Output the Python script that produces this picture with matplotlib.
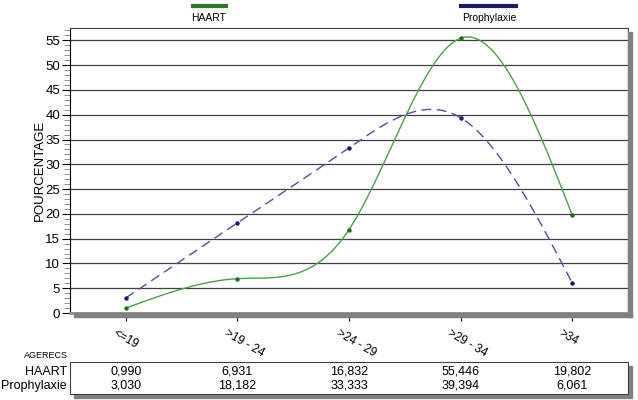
import numpy as np
import matplotlib.pyplot as plt
from matplotlib.patches import Rectangle
from matplotlib.lines import Line2D
from matplotlib.transforms import ScaledTranslation

plt.rcParams['font.family'] = ['Liberation Sans', 'DejaVu Sans']

categories = ['<=19', '>19 - 24', '>24 - 29', '>29 - 34', '>34']
haart = [0.990, 6.931, 16.832, 55.446, 19.802]
prophylaxie = [3.030, 18.182, 33.333, 39.394, 6.061]
haart_txt = ['0,990', '6,931', '16,832', '55,446', '19,802']
proph_txt = ['3,030', '18,182', '33,333', '39,394', '6,061']


def natural_spline(x, y, xs):
    x = np.asarray(x, float)
    y = np.asarray(y, float)
    n = len(x)
    h = np.diff(x)
    A = np.zeros((n, n))
    b = np.zeros(n)
    A[0, 0] = 1
    A[-1, -1] = 1
    for i in range(1, n - 1):
        A[i, i - 1] = h[i - 1]
        A[i, i] = 2 * (h[i - 1] + h[i])
        A[i, i + 1] = h[i]
        b[i] = 6 * ((y[i + 1] - y[i]) / h[i] - (y[i] - y[i - 1]) / h[i - 1])
    m = np.linalg.solve(A, b)
    idx = np.clip(np.searchsorted(x, xs) - 1, 0, n - 2)
    t0 = x[idx]
    t1 = x[idx + 1]
    hh = t1 - t0
    a = (t1 - xs) / hh
    c = (xs - t0) / hh
    return (a * y[idx] + c * y[idx + 1]
            + ((a**3 - a) * m[idx] + (c**3 - c) * m[idx + 1]) * hh**2 / 6)


fig = plt.figure(figsize=(6.38, 4.0), dpi=100)
W, H = 638, 400

# plot area in pixels
L, R, T, B = 70, 628, 28, 313
ax = fig.add_axes([L / W, 1 - B / H, (R - L) / W, (B - T) / H])

# drop shadow
fig.patches.append(Rectangle((R / W, 1 - (B + 4) / H), 4 / W, (B - T) / H,
                             transform=fig.transFigure, color='#808080', zorder=0))
fig.patches.append(Rectangle(((L + 4) / W, 1 - (B + 4) / H), (R - L) / W, 4 / H,
                             transform=fig.transFigure, color='#808080', zorder=0))

x = np.arange(len(categories))
xs = np.linspace(0, len(categories) - 1, 400)

ax.plot(xs, natural_spline(x, haart, xs), color='#4aa24a', lw=1.0, zorder=3)
ax.plot(xs, natural_spline(x, prophylaxie, xs), color='#5050a8', lw=1.0,
        dashes=(7, 4), zorder=3)
ax.plot(x, haart, 'o', color='#1f6e1f', ms=2.2, zorder=4)
ax.plot(x, prophylaxie, 'o', color='#1c1c70', ms=2.2, zorder=4)

ax.set_xlim(-0.5, 4.5)
ax.set_ylim(0, 57.5)
ax.set_yticks(np.arange(0, 56, 5))
ax.set_yticks(np.arange(0, 58, 1), minor=True)
ax.grid(axis='y', which='major', color='#404040', lw=0.9)
ax.set_axisbelow(True)
ax.tick_params(axis='y', which='major', length=6, width=0.8, labelsize=9.5, pad=1)
ax.tick_params(axis='y', which='minor', length=4, width=0.6, color='#808080')
ax.set_xticks(x)
ax.set_xticklabels(categories, rotation=-30, ha='left', va='center',
                   rotation_mode='anchor', fontsize=8.5)
ax.tick_params(axis='x', length=6, width=0.8, pad=8)
shift = ScaledTranslation(-12 / 100, 0, fig.dpi_scale_trans)
for lab in ax.get_xticklabels():
    lab.set_transform(lab.get_transform() + shift)
ax.set_ylabel('POURCENTAGE', fontsize=9.5, labelpad=0)
for s in ['top', 'right']:
    ax.spines[s].set_color('#404040')
    ax.spines[s].set_linewidth(0.8)
ax.spines['bottom'].set_color('#909090')
ax.spines['bottom'].set_linewidth(2)

# legend
fig.add_artist(Line2D([193 / W, 226 / W], [1 - 6 / H] * 2, color='#2a7a2a', lw=3))
fig.text(209 / W, 1 - 18 / H, 'HAART', ha='center', va='center', fontsize=7.5)
fig.add_artist(Line2D([461 / W, 486 / W], [1 - 6 / H] * 2, color='#1a1a60', lw=3))
fig.add_artist(Line2D([490 / W, 516 / W], [1 - 6 / H] * 2, color='#1a1a60', lw=3))
fig.text(489 / W, 1 - 18 / H, 'Prophylaxie', ha='center', va='center', fontsize=7.5)

# data table
tT, tB = 362, 394
fig.patches.append(Rectangle(((L + 4) / W, 1 - (tB + 4) / H), (R - L) / W, (tB - tT) / H,
                             transform=fig.transFigure, color='#808080', zorder=0))
fig.patches.append(Rectangle((L / W, 1 - tB / H), (R - L) / W, (tB - tT) / H,
                             transform=fig.transFigure, facecolor='white',
                             edgecolor='#404040', lw=0.8, zorder=1))
fig.text(68 / W, 1 - 355 / H, 'AGERECS', ha='right', va='center', fontsize=6.5)
fig.text(67 / W, 1 - 372 / H, 'HAART', ha='right', va='center', fontsize=9)
fig.text(67 / W, 1 - 386 / H, 'Prophylaxie', ha='right', va='center', fontsize=9)
for i in range(len(categories)):
    px = ax.transData.transform((x[i], 0))[0] / fig.dpi / fig.get_figwidth()
    fig.text(px, 1 - 372 / H, haart_txt[i], ha='center', va='center', fontsize=9)
    fig.text(px, 1 - 386 / H, proph_txt[i], ha='center', va='center', fontsize=9)

fig.savefig('out.png', dpi=100)
